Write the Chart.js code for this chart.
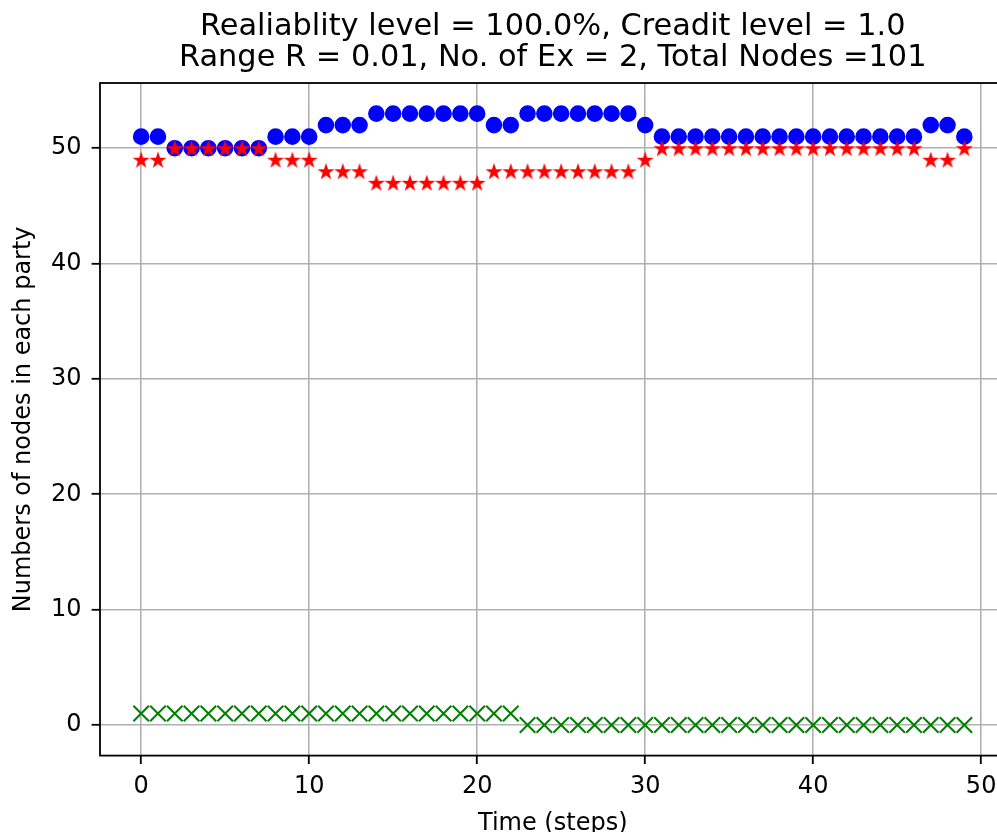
<!DOCTYPE html>
<html>
<head>
<meta charset="utf-8">
<script src="https://cdn.jsdelivr.net/npm/chart.js@4"></script>
<style>
  html, body { margin: 0; padding: 0; background: #fff; overflow: hidden; }
  #partyChart { display: block; }
</style>
</head>
<body>
<canvas id="partyChart" width="1026" height="832"></canvas>
<script>
// time steps and node counts per party
const steps = [0, 1, 2, 3, 4, 5, 6, 7, 8, 9, 10, 11, 12, 13, 14, 15, 16, 17, 18, 19,
               20, 21, 22, 23, 24, 25, 26, 27, 28, 29, 30, 31, 32, 33, 34, 35, 36, 37, 38, 39,
               40, 41, 42, 43, 44, 45, 46, 47, 48, 49];

const bluePartyNodes = [51, 51, 50, 50, 50, 50, 50, 50, 51, 51, 51, 52, 52, 52, 53, 53, 53, 53, 53, 53,
                        53, 52, 52, 53, 53, 53, 53, 53, 53, 53, 52, 51, 51, 51, 51, 51, 51, 51, 51, 51,
                        51, 51, 51, 51, 51, 51, 51, 52, 52, 51];

const redPartyNodes = [49, 49, 50, 50, 50, 50, 50, 50, 49, 49, 49, 48, 48, 48, 47, 47, 47, 47, 47, 47,
                       47, 48, 48, 48, 48, 48, 48, 48, 48, 48, 49, 50, 50, 50, 50, 50, 50, 50, 50, 50,
                       50, 50, 50, 50, 50, 50, 50, 49, 49, 50];

const greenNodes = [1, 1, 1, 1, 1, 1, 1, 1, 1, 1, 1, 1, 1, 1, 1, 1, 1, 1, 1, 1,
                    1, 1, 1, 0, 0, 0, 0, 0, 0, 0, 0, 0, 0, 0, 0, 0, 0, 0, 0, 0,
                    0, 0, 0, 0, 0, 0, 0, 0, 0, 0];

const xTicks = [0, 10, 20, 30, 40, 50];
const yTicks = [0, 10, 20, 30, 40, 50];

const titleLines = [
    "Realiablity level = 100.0%, Creadit level = 1.0",
    "Range R = 0.01, No. of Ex = 2, Total Nodes =101"
];

const FONT = "'DejaVu Sans', sans-serif";

function toPoints(values) {
    return steps.map((s, i) => ({ x: s, y: values[i] }));
}

// filled five point star, same look as a '*' marker
function makeStar(size, color) {
    const c = document.createElement("canvas");
    c.width = size;
    c.height = size;
    const g = c.getContext("2d");
    const cx = size / 2, cy = size / 2 + 0.8;
    const outer = size / 2;
    const inner = outer * 0.382;
    g.beginPath();
    for (let i = 0; i < 10; i++) {
        const r = i % 2 === 0 ? outer : inner;
        const a = -Math.PI / 2 + i * Math.PI / 5;
        const px = cx + r * Math.cos(a);
        const py = cy + r * Math.sin(a);
        if (i === 0) g.moveTo(px, py); else g.lineTo(px, py);
    }
    g.closePath();
    g.fillStyle = color;
    g.fill();
    return c;
}

const starImg = makeStar(18, "#ff0000");

// box around the plot like a matplotlib axes frame
const framePlugin = {
    id: "frame",
    afterDatasetsDraw(chart) {
        const { ctx, chartArea: a } = chart;
        ctx.save();
        ctx.strokeStyle = "#000";
        ctx.lineWidth = 1.8;
        ctx.strokeRect(a.left, a.top, a.right - a.left, a.bottom - a.top);
        ctx.restore();
    }
};

const gridOpts = {
    color: "#b0b0b0",
    lineWidth: 1.6,
    tickColor: "#000",
    tickWidth: 1.8,
    tickLength: 8.4
};

new Chart(document.getElementById("partyChart"), {
    type: "scatter",
    data: {
        datasets: [
            {
                label: "blue",
                data: toPoints(bluePartyNodes),
                pointStyle: "circle",
                pointRadius: 7.4,
                pointBorderWidth: 1.8,
                backgroundColor: "#0000ff",
                borderColor: "#0000ff",
                order: 3
            },
            {
                label: "red",
                data: toPoints(redPartyNodes),
                pointStyle: starImg,
                pointRadius: 9,
                backgroundColor: "#ff0000",
                borderColor: "#ff0000",
                order: 2
            },
            {
                label: "green",
                data: toPoints(greenNodes),
                pointStyle: "crossRot",
                pointRadius: 11,
                pointBorderWidth: 2,
                backgroundColor: "#008000",
                borderColor: "#008000",
                order: 1
            }
        ]
    },
    options: {
        responsive: false,
        devicePixelRatio: 1,
        animation: false,
        layout: {
            padding: { left: 0, right: 20.5, top: 0, bottom: 0 }
        },
        plugins: {
            legend: { display: false },
            tooltip: { enabled: false },
            title: {
                display: true,
                fullSize: false,
                text: titleLines,
                color: "#000",
                font: { family: FONT, size: 30.4, weight: "normal", lineHeight: 1.02 },
                padding: { top: 12, bottom: 9 }
            }
        },
        scales: {
            x: {
                type: "linear",
                min: -2.45,
                max: 51.45,
                afterBuildTicks: (scale) => { scale.ticks = xTicks.map(v => ({ value: v })); },
                afterFit: (scale) => { scale.height = 76.4; },
                grid: gridOpts,
                border: { display: false },
                ticks: {
                    color: "#000",
                    padding: 8,
                    maxRotation: 0,
                    font: { family: FONT, size: 24 }
                },
                title: {
                    display: true,
                    text: "Time (steps)",
                    color: "#000",
                    font: { family: FONT, size: 24, lineHeight: 0.7 },
                    padding: 0
                }
            },
            y: {
                type: "linear",
                min: -2.65,
                max: 55.65,
                afterBuildTicks: (scale) => { scale.ticks = yTicks.map(v => ({ value: v })); },
                afterFit: (scale) => { scale.width = 100; },
                grid: gridOpts,
                border: { display: false },
                ticks: {
                    color: "#000",
                    padding: 10,
                    font: { family: FONT, size: 24 }
                },
                title: {
                    display: true,
                    text: "Numbers of nodes in each party",
                    color: "#000",
                    font: { family: FONT, size: 24 },
                    padding: { top: 9, bottom: 0 }
                }
            }
        }
    },
    plugins: [framePlugin]
});
</script>
</body>
</html>
